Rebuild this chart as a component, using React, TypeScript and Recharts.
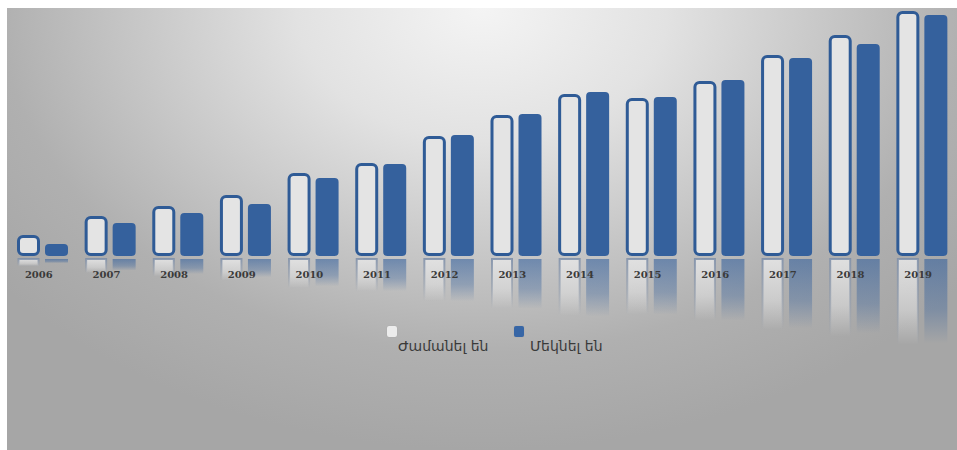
import React from 'react';
import { BarChart, Bar, XAxis, YAxis } from 'recharts';

const years = ['2006', '2007', '2008', '2009', '2010', '2011', '2012', '2013', '2014', '2015', '2016', '2017', '2018', '2019'];
const arrived = [21, 40, 50, 61, 83, 93, 120, 141, 162, 158, 175, 201, 221, 245];
const departed = [12, 33, 43, 52, 78, 92, 121, 142, 164, 159, 176, 198, 212, 241];
const seriesNames = ['Ժամանել են', 'Մեկնել են'];

const data = years.map((y, i) => ({ year: y, arrived: arrived[i], departed: departed[i] }));

const BLUE = '#35619d';
const EDGE = '#2f5b96';

const ArrivedShape = (p: any) => {
  const { x, y, width: w, height: h, index } = p;
  if (!h || h <= 0) return null;
  const rh = h * 0.35;
  const id = `ra${index}`;
  const ids = `rs${index}`;
  return (
    <g>
      <defs>
        <linearGradient id={id} x1="0" y1="0" x2="0" y2="1">
          <stop offset="0" stopColor="#e2e2e2" stopOpacity={0.95} />
          <stop offset="0.6" stopColor="#e2e2e2" stopOpacity={0.55} />
          <stop offset="1" stopColor="#e2e2e2" stopOpacity={0} />
        </linearGradient>
        <linearGradient id={ids} x1="0" y1="0" x2="0" y2="1">
          <stop offset="0" stopColor="#7d8ea8" stopOpacity={0.85} />
          <stop offset="0.6" stopColor="#8a96a8" stopOpacity={0.5} />
          <stop offset="1" stopColor="#8a96a8" stopOpacity={0} />
        </linearGradient>
      </defs>
      <rect x={x + 1.5} y={y + h + 3} width={w - 3} height={rh} fill={`url(#${id})`} stroke={`url(#${ids})`} strokeWidth={2} />
      <rect x={x + 1.5} y={y + 1.5} width={w - 3} height={h - 3} rx={4.5} ry={4.5} fill="#e4e4e4" stroke={EDGE} strokeWidth={3} />
    </g>
  );
};

const DepartedShape = (p: any) => {
  const { x, y, width: w, height: h, index } = p;
  if (!h || h <= 0) return null;
  const rh = h * 0.35;
  const id = `rb${index}`;
  return (
    <g>
      <defs>
        <linearGradient id={id} x1="0" y1="0" x2="0" y2="1">
          <stop offset="0" stopColor={BLUE} stopOpacity={0.6} />
          <stop offset="0.6" stopColor={BLUE} stopOpacity={0.35} />
          <stop offset="1" stopColor={BLUE} stopOpacity={0} />
        </linearGradient>
      </defs>
      <rect x={x} y={y + h + 3} width={w} height={rh} fill={`url(#${id})`} />
      <rect x={x} y={y} width={w} height={h} rx={4} ry={4} fill={BLUE} />
    </g>
  );
};

const YearTick = (p: any) => {
  const { x, y, payload } = p;
  return (
    <text x={x - 4} y={y + 22} textAnchor="middle" fontFamily="'DejaVu Serif', serif" fontWeight="bold" fontSize={10} fill="#3a3a3a">
      {payload.value}
    </text>
  );
};

const legendItems = [
  { name: seriesNames[0], color: '#ececec', sx: 380, tx: 391 },
  { name: seriesNames[1], color: '#3766a6', sx: 507, tx: 523 },
];

export default function App() {
  return (
    <div style={{ position: 'absolute', left: 0, top: 0, width: 957, height: 450, background: '#ffffff' }}>
      <div
        style={{
          position: 'absolute',
          left: 7,
          top: 8,
          width: 950,
          height: 442,
          background:
            'radial-gradient(ellipse 65% 100% at 50% 0%, #f4f4f4 0%, #e2e2e2 30%, #c8c8c8 55%, #b0b0b0 78%, #a6a6a6 100%)',
        }}
      >
        <BarChart
          width={950}
          height={442}
          data={data}
          margin={{ top: 3, right: 1, left: 2, bottom: 164 }}
          barSize={23}
          barGap={5}
        >
          <XAxis dataKey="year" height={30} axisLine={false} tickLine={false} tickSize={0} tickMargin={0} tick={<YearTick />} interval={0} />
          <YAxis hide domain={[0, 245]} />
          <Bar dataKey="arrived" name={seriesNames[0]} fill="#e4e4e4" shape={<ArrivedShape />} isAnimationActive={false} />
          <Bar dataKey="departed" name={seriesNames[1]} fill={BLUE} shape={<DepartedShape />} isAnimationActive={false} />
        </BarChart>
        {legendItems.map((it) => (
          <React.Fragment key={it.name}>
            <div
              style={{
                position: 'absolute',
                left: it.sx,
                top: 318,
                width: 10,
                height: 11,
                background: it.color,
                borderRadius: 2,
                boxShadow: '0 0 1px rgba(0,0,0,0.15)',
              }}
            />
            <div
              style={{
                position: 'absolute',
                left: it.tx,
                top: 331,
                fontFamily: "'DejaVu Sans', sans-serif",
                fontSize: 14,
                lineHeight: '14px',
                color: '#3a3a3a',
                whiteSpace: 'nowrap',
              }}
            >
              {it.name}
            </div>
          </React.Fragment>
        ))}
      </div>
    </div>
  );
}
